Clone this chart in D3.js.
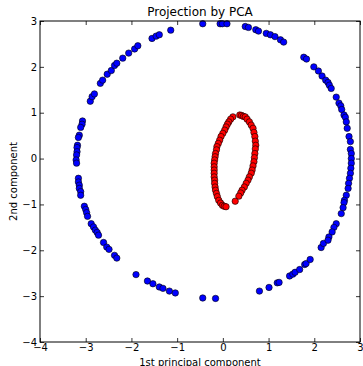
<!DOCTYPE html>
<html>
<head>
<meta charset="utf-8">
<script src="https://cdn.jsdelivr.net/npm/d3@7"></script>
<style>
  body { margin: 0; background: #fff; }
  text { font-family: "DejaVu Sans", sans-serif; fill: #000; }
</style>
</head>
<body>
<div id="chart"></div>
<script>
// outer circle (blue) — [1st, 2nd] component
const bluePoints = [
  [-3.07, 0.82], [-2.90, 1.25], [-2.86, 1.35], [-2.81, 1.41], [-2.68, 1.64], [-2.63, 1.71],
  [-2.53, 1.84], [-2.44, 1.92], [-2.37, 2.03], [-2.32, 2.08], [-2.19, 2.19], [-2.06, 2.30],
  [-1.93, 2.39], [-1.86, 2.46], [-1.55, 2.62], [-1.46, 2.67], [-1.39, 2.70], [-1.14, 2.80],
  [-0.44, 2.94], [-0.06, 2.94], [-0.01, 2.94], [0.09, 2.94], [0.49, 2.88], [0.56, 2.86],
  [0.72, 2.81], [0.78, 2.78], [0.95, 2.73], [1.04, 2.70], [1.14, 2.66], [1.26, 2.59],
  [1.33, 2.54], [1.77, 2.21], [1.83, 2.17], [1.99, 2.00], [2.09, 1.91], [2.17, 1.80],
  [2.25, 1.71], [2.30, 1.66], [2.33, 1.60], [2.37, 1.53], [2.48, 1.34], [2.54, 1.21],
  [2.58, 1.15], [2.60, 1.07], [2.65, 0.95], [2.68, 0.90],
  [-3.08, 0.75], [-3.11, 0.68], [-3.14, 0.51], [-3.16, 0.46], [-3.18, 0.29], [-3.19, 0.24],
  [-3.19, 0.15], [-3.20, 0.08], [-3.21, -0.03], [-3.20, -0.10], [-3.16, -0.43], [-3.16, -0.51],
  [-3.14, -0.58], [-3.14, -0.65], [-3.11, -0.72], [-3.11, -0.80], [-3.03, -1.04], [-3.00, -1.11],
  [-2.98, -1.18], [-2.96, -1.26], [-2.88, -1.42], [-2.83, -1.49], [-2.79, -1.56], [-2.75, -1.61],
  [-2.72, -1.67],
  [2.70, 0.80], [2.72, 0.66], [2.76, 0.48], [2.79, 0.37], [2.79, 0.20], [2.81, 0.11],
  [2.81, 0.00], [2.81, -0.10], [2.80, -0.21], [2.79, -0.32], [2.77, -0.43], [2.75, -0.54],
  [2.74, -0.65], [2.70, -0.80], [2.66, -0.91], [2.65, -0.96], [2.63, -1.07], [2.59, -1.20],
  [2.48, -1.42], [2.43, -1.50], [2.39, -1.60], [2.32, -1.71],
  [-2.61, -1.83], [-2.54, -1.93], [-2.49, -1.98], [-2.37, -2.11], [-2.32, -2.17], [-1.90, -2.53],
  [-1.65, -2.67], [-1.53, -2.73], [-1.39, -2.80], [-1.31, -2.83], [-1.17, -2.89], [-1.04, -2.93],
  [-0.44, -3.04], [-0.16, -3.05], [0.80, -2.89], [1.01, -2.81], [1.19, -2.71], [1.23, -2.70],
  [1.46, -2.56], [1.53, -2.52], [1.58, -2.48], [1.68, -2.42], [1.79, -2.31], [1.82, -2.29],
  [1.91, -2.20], [2.15, -1.94], [2.20, -1.85], [2.30, -1.78]
];

// inner loop (red)
const redPoints = [
  [0.22, 0.91], [0.17, 0.86], [0.13, 0.80], [0.10, 0.75], [0.07, 0.69], [0.04, 0.62],
  [0.00, 0.55], [-0.04, 0.48], [-0.07, 0.40], [-0.10, 0.33], [-0.13, 0.26], [-0.14, 0.19],
  [-0.16, 0.11], [-0.17, 0.04], [-0.18, -0.03], [-0.19, -0.10], [-0.19, -0.18], [-0.19, -0.25],
  [-0.19, -0.32], [-0.19, -0.40], [-0.18, -0.47], [-0.18, -0.54], [-0.17, -0.62], [-0.16, -0.69],
  [-0.14, -0.76], [-0.12, -0.83], [-0.09, -0.91], [-0.05, -0.97], [-0.01, -1.02], [0.03, -1.04],
  [0.07, -1.05],
  [0.37, 0.95], [0.41, 0.94], [0.45, 0.92], [0.49, 0.91], [0.53, 0.86], [0.58, 0.80],
  [0.62, 0.73], [0.66, 0.66], [0.68, 0.57], [0.70, 0.48], [0.71, 0.38], [0.72, 0.29],
  [0.71, 0.21], [0.70, 0.11], [0.69, 0.02], [0.68, -0.07], [0.66, -0.16], [0.64, -0.25],
  [0.62, -0.32], [0.58, -0.40], [0.55, -0.47], [0.51, -0.54], [0.47, -0.62], [0.42, -0.69],
  [0.39, -0.75], [0.35, -0.82], [0.27, -0.93]
];

const xTicks = [-4, -3, -2, -1, 0, 1, 2, 3];
const yTicks = [-4, -3, -2, -1, 0, 1, 2, 3];

const W = 363, H = 366;
const margin = { left: 40, right: 3, top: 21, bottom: 24 };
const width = W - margin.left - margin.right;
const height = H - margin.top - margin.bottom;

const svg = d3.select("#chart").append("svg")
  .attr("width", W)
  .attr("height", H);

const g = svg.append("g")
  .attr("transform", `translate(${margin.left},${margin.top})`);

const x = d3.scaleLinear().domain([-4, 3]).range([0, width]);
const y = d3.scaleLinear().domain([-4, 3]).range([height, 0]);

const fmt = d => d < 0 ? "\u2212" + Math.abs(d) : String(d);

// axes, ticks pointing inward on all four sides
const axB = g.append("g").attr("transform", `translate(0,${height})`)
  .call(d3.axisBottom(x).tickValues(xTicks).tickSize(-4).tickPadding(2).tickFormat(fmt));
const axT = g.append("g")
  .call(d3.axisTop(x).tickValues(xTicks).tickSize(-4).tickFormat(""));
const axL = g.append("g")
  .call(d3.axisLeft(y).tickValues(yTicks).tickSize(-4).tickPadding(3).tickFormat(fmt));
const axR = g.append("g").attr("transform", `translate(${width},0)`)
  .call(d3.axisRight(y).tickValues(yTicks).tickSize(-4).tickFormat(""));

[axB, axT, axL, axR].forEach(a => {
  a.select(".domain").remove();
  a.selectAll("line").attr("stroke", "#000").attr("stroke-width", 0.8);
  a.selectAll("text").attr("font-size", 10).attr("font-family", "DejaVu Sans, sans-serif");
});

// points
g.append("g").selectAll("circle.blue")
  .data(bluePoints).enter().append("circle")
  .attr("cx", d => x(d[0])).attr("cy", d => y(d[1]))
  .attr("r", 3.2)
  .attr("fill", "#0000ff").attr("stroke", "#000").attr("stroke-width", 0.6);

g.append("g").selectAll("circle.red")
  .data(redPoints).enter().append("circle")
  .attr("cx", d => x(d[0])).attr("cy", d => y(d[1]))
  .attr("r", 3.2)
  .attr("fill", "#ff0000").attr("stroke", "#000").attr("stroke-width", 0.6);

// frame
g.append("rect")
  .attr("width", width).attr("height", height)
  .attr("fill", "none").attr("stroke", "#000").attr("stroke-width", 1);

// title and labels
svg.append("text")
  .attr("x", margin.left + width / 2).attr("y", 16)
  .attr("text-anchor", "middle").attr("font-size", 12)
  .text("Projection by PCA");

svg.append("text")
  .attr("x", margin.left + width / 2).attr("y", 366)
  .attr("text-anchor", "middle").attr("font-size", 10)
  .text("1st principal component");

svg.append("text")
  .attr("transform", `translate(17,${margin.top + height / 2}) rotate(-90)`)
  .attr("text-anchor", "middle").attr("font-size", 10)
  .text("2nd component");
</script>
</body>
</html>
